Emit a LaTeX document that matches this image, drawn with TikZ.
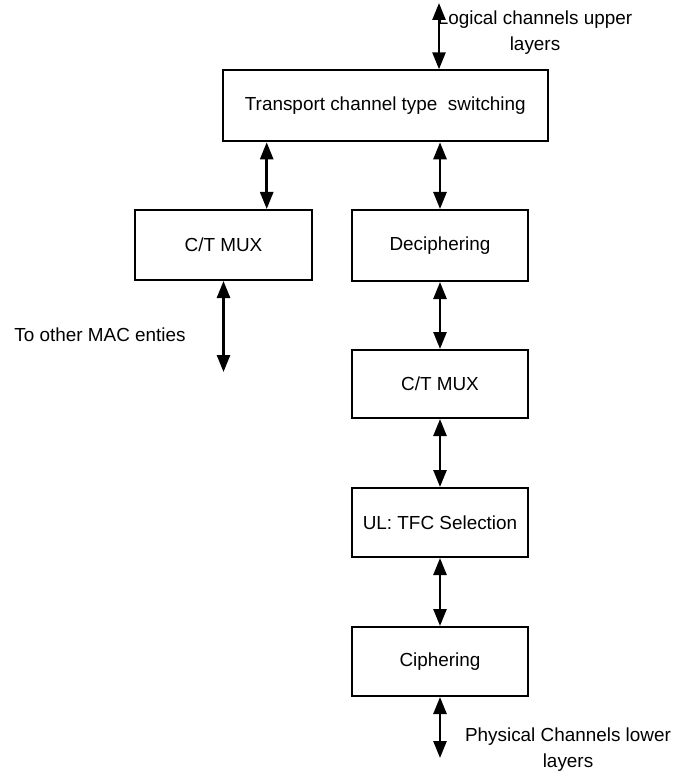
\documentclass[tikz,border=0pt]{standalone}
\usepackage{fontspec}
\setmainfont{Liberation Sans}
\usetikzlibrary{arrows.meta}
\begin{document}
\begin{tikzpicture}[x=1pt,y=-1pt,
  every node/.style={font=\fontsize{18.9}{26}\selectfont},
  box/.style={draw, line width=2pt, rectangle, inner sep=0pt,
    minimum width=176pt, minimum height=69pt},
  note/.style={align=center, inner sep=0pt},
  link/.style={line width=2.6pt,
    {Triangle[length=17pt,width=13pt]}-{Triangle[length=17pt,width=13pt]}}]
\useasboundingbox (0,0) rectangle (673,775);

% processing blocks
\node[box, minimum width=325pt, minimum height=71pt] (top) at (385.3,105.8)
  {Transport channel type\ \ switching};
\node[box, minimum width=177pt, minimum height=70pt] (ctl) at (223.5,245) {C/T MUX};
\node[box, minimum height=71pt] (deci) at (440,245.5) {Deciphering};
\node[box, minimum height=68pt] (ctm) at (440,384) {C/T MUX};
\node[box] (ul) at (440,522.5) {UL: TFC Selection};
\node[box] (ciph) at (440,661.5) {Ciphering};

% side labels
\node[note] (upper) at (535,33) {Logical channels upper\\layers};
\node[note] (mac) at (100,335) {To other MAC enties};
\node[note] (lower) at (568,750) {Physical Channels lower\\layers};

% free arrow ends
\coordinate (upin) at (439,3);
\coordinate (lx) at (266.7,0);
\coordinate (macend) at (223.5,372);
\coordinate (phyend) at (440,758);

% connectors
\draw[link] (upin) -- (upin |- top.north);
\draw[link] (lx |- top.south) -- (lx |- ctl.north);
\draw[link] (deci.north |- top.south) -- (deci.north);
\draw[link] (ctl.south) -- (macend);
\draw[link] (deci.south) -- (ctm.north);
\draw[link] (ctm.south) -- (ul.north);
\draw[link] (ul.south) -- (ciph.north);
\draw[link] (ciph.south) -- (phyend);
\end{tikzpicture}
\end{document}
